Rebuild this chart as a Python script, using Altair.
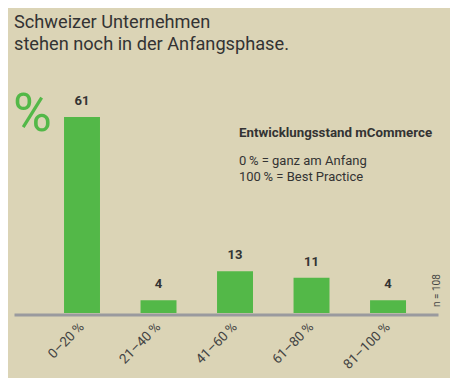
import altair as alt
import pandas as pd

categories = ["0–20\u2009%", "21–40\u2009%", "41–60\u2009%", "61–80\u2009%", "81–100\u2009%"]
values = [61, 4, 13, 11, 4]

title_lines = ["Schweizer Unternehmen", "stehen noch in der Anfangsphase."]
legend_head = "Entwicklungsstand mCommerce"
legend_lines = ["0\u2009% = ganz am Anfang", "100\u2009% = Best Practice"]
n_note = "n = 108"

BG = "#dbd4b6"
GREEN = "#53b848"
TEXT = "#333333"
FONT = "Roboto"

df = pd.DataFrame({"cat": categories, "val": values})

xenc = alt.X(
    "cat:N",
    sort=categories,
    title=None,
    scale=alt.Scale(paddingInner=0.53, paddingOuter=0.536, align=0.61),
    axis=alt.Axis(
        labelAngle=-45,
        labelAlign="right",
        labelBaseline="middle",
        labelFontSize=13.5,
        labelColor="#444444",
        labelFont=FONT,
        labelPadding=10,
        ticks=False,
        domainColor="#9a9a9e",
        domainWidth=3,
        offset=1.5,
        grid=False,
    ),
)
yenc = alt.Y("val:Q", scale=alt.Scale(domain=[0, 70], nice=False), axis=None)

bars = alt.Chart(df).mark_bar(color=GREEN).encode(x=xenc, y=yenc)
labels = alt.Chart(df).mark_text(
    dy=-9, baseline="bottom", fontSize=13, fontWeight="bold", color=TEXT, font=FONT
).encode(x=alt.X("cat:N", sort=categories), y="val:Q", text="val:Q")

def txt(s, x, y, size, weight="normal", color=TEXT, angle=0, align="left"):
    return alt.Chart(pd.DataFrame({"t": [s]})).mark_text(
        align=align, baseline="alphabetic", fontSize=size, fontWeight=weight,
        color=color, font=FONT, angle=angle
    ).encode(text="t:N", x=alt.value(x), y=alt.value(y))

annots = [
    txt(title_lines[0], 0, -60, 18.2),
    txt(title_lines[1], 0, -38, 18.2),
    txt("%", -1, 43, 53, color=GREEN),
    txt(legend_head, 225, 49, 13.3, weight="bold"),
    txt(legend_lines[0], 225, 77, 13),
    txt(legend_lines[1], 225, 93, 13),
    txt(n_note, 426, 219, 10, angle=270, color="#444444"),
]

chart = alt.layer(bars, labels, *annots).properties(
    width=424,
    height=225,
    autosize=alt.AutoSizeParams(type="none"),
    padding={"left": 6, "top": 80, "right": 12, "bottom": 65},
    background=BG,
).configure_view(stroke=None)

chart.save("out.html", embed_options={"renderer": "svg", "actions": False})
